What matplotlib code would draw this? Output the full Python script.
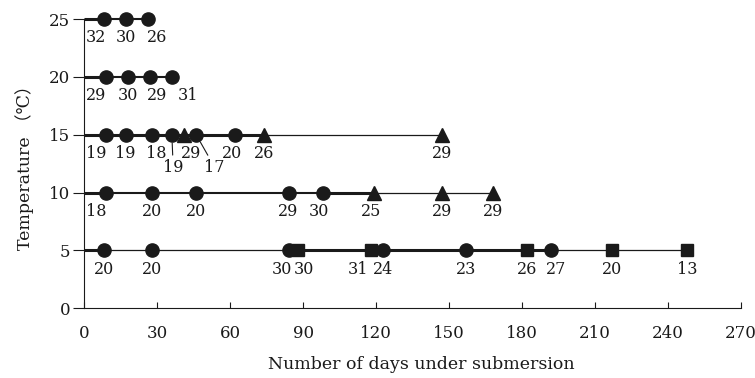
import matplotlib
matplotlib.use("Agg")
import matplotlib.pyplot as plt

plt.rcParams['font.family'] = ['DejaVu Serif', 'Noto Sans CJK JP', 'DejaVu Sans']

# data: one row per water temperature
days_25 = [8, 17, 26]
mark_25 = ['o', 'o', 'o']
lab_25 = [32, 30, 26]

days_20 = [9, 18, 27, 36]
mark_20 = ['o', 'o', 'o', 'o']
lab_20 = [29, 30, 29, 31]

days_15 = [9, 17, 28, 36, 41, 46, 62, 74, 147]
mark_15 = ['o', 'o', 'o', 'o', '^', 'o', 'o', '^', '^']
lab_15 = [19, 19, 18, 19, 29, 17, 20, 26, 29]

days_10 = [9, 28, 46, 84, 98, 119, 147, 168]
mark_10 = ['o', 'o', 'o', 'o', 'o', '^', '^', '^']
lab_10 = [18, 20, 20, 29, 30, 25, 29, 29]

days_5 = [8, 28, 84, 88, 118, 123, 157, 182, 192, 217, 248]
mark_5 = ['o', 'o', 'o', 's', 's', 'o', 'o', 's', 'o', 's', 's']
lab_5 = [20, 20, 30, 30, 31, 24, 23, 26, 27, 20, 13]

# line segments (break points in days) and their weight
seg_25 = [0, 8, 26]
wt_25 = ['thick', 'mid']
seg_20 = [0, 9, 36]
wt_20 = ['thick', 'mid']
seg_15 = [0, 74, 147]
wt_15 = ['thick', 'thin']
seg_10 = [0, 9, 98, 119, 168]
wt_10 = ['thick', 'mid', 'thick', 'thin']
seg_5 = [0, 8, 84, 192, 248]
wt_5 = ['thick', 'thin', 'thick', 'thin']

rows = [
    (25, days_25, mark_25, lab_25, seg_25, wt_25),
    (20, days_20, mark_20, lab_20, seg_20, wt_20),
    (15, days_15, mark_15, lab_15, seg_15, wt_15),
    (10, days_10, mark_10, lab_10, seg_10, wt_10),
    (5, days_5, mark_5, lab_5, seg_5, wt_5),
]

widths = {'thick': 2.2, 'mid': 1.5, 'thin': 0.9}
msize = {'o': 9.5, '^': 9.5, 's': 8.5}

# label nudges in pixels (dx, dy) where labels were moved to avoid overlap
nudge = {
    (25, 0): (-8, 0), (25, 2): (10, 0),
    (20, 0): (-10, 0), (20, 2): (7, 0), (20, 3): (16, 0),
    (15, 0): (-10, 0), (15, 2): (4, 0), (15, 4): (7, 0),
    (15, 6): (-3, 0),
    (10, 0): (-10, 0), (10, 4): (-4, 0), (10, 5): (-3, 0),
    (5, 2): (-7, 0), (5, 3): (6, 0), (5, 4): (-13, 0), (5, 8): (5, 0),
}
# labels with leader lines: (dx, dy) of label centre in pixels
leader = {(15, 3): (1, -33), (15, 5): (18, -33)}

fig = plt.figure(figsize=(7.55, 3.78), dpi=100)
ax = fig.add_axes([84.3 / 755, 69.7 / 378, 656.7 / 755, 289.3 / 378])

px = 0.72  # points per pixel at 100 dpi
ink = '#1a1a1a'

for t, days, marks, labs, seg, wt in rows:
    for a, b, w in zip(seg[:-1], seg[1:], wt):
        ax.plot([a, b], [t, t], color=ink, lw=widths[w],
                solid_capstyle='butt', clip_on=False, zorder=2)
    for i, (d, m, lab) in enumerate(zip(days, marks, labs)):
        ax.plot(d, t, marker=m, ms=msize[m], color=ink,
                mec=ink, clip_on=False, zorder=3)
        if (t, i) in leader:
            dx, dy = leader[(t, i)]
            ax.annotate(str(lab), xy=(d, t), xytext=(dx * px, dy * px),
                        textcoords='offset points', ha='center', va='center',
                        fontsize=11.5, color=ink,
                        arrowprops=dict(arrowstyle='-', color=ink, lw=0.8,
                                        shrinkA=1, shrinkB=6,
                                        relpos=(0.5 if dx < 10 else 0.3, 1.0)))
        else:
            dx, dy = nudge.get((t, i), (0, 0))
            ax.annotate(str(lab), xy=(d, t), xytext=(dx * px, (-19 + dy) * px),
                        textcoords='offset points', ha='center', va='center',
                        fontsize=11.5, color=ink)

ax.set_xlim(0, 270)
ax.set_ylim(0, 25)
ax.set_xticks(range(0, 271, 30))
ax.set_yticks(range(0, 26, 5))
ax.spines['top'].set_visible(False)
ax.spines['right'].set_visible(False)
ax.spines['left'].set_color(ink)
ax.spines['bottom'].set_color(ink)
ax.tick_params(axis='x', direction='in', length=4, pad=12, labelsize=12,
               colors=ink)
ax.tick_params(axis='y', direction='out', length=8, pad=2, labelsize=12,
               colors=ink)

ax.set_xlabel('Number of days under submersion', fontsize=12.5, color=ink)
ax.set_ylabel('Temperature （℃）', fontsize=12.5, color=ink)
ax.xaxis.set_label_coords(0.513, -0.165)
ax.yaxis.set_label_coords(-0.0766, 0.5)

fig.savefig('out.png', dpi=100)
